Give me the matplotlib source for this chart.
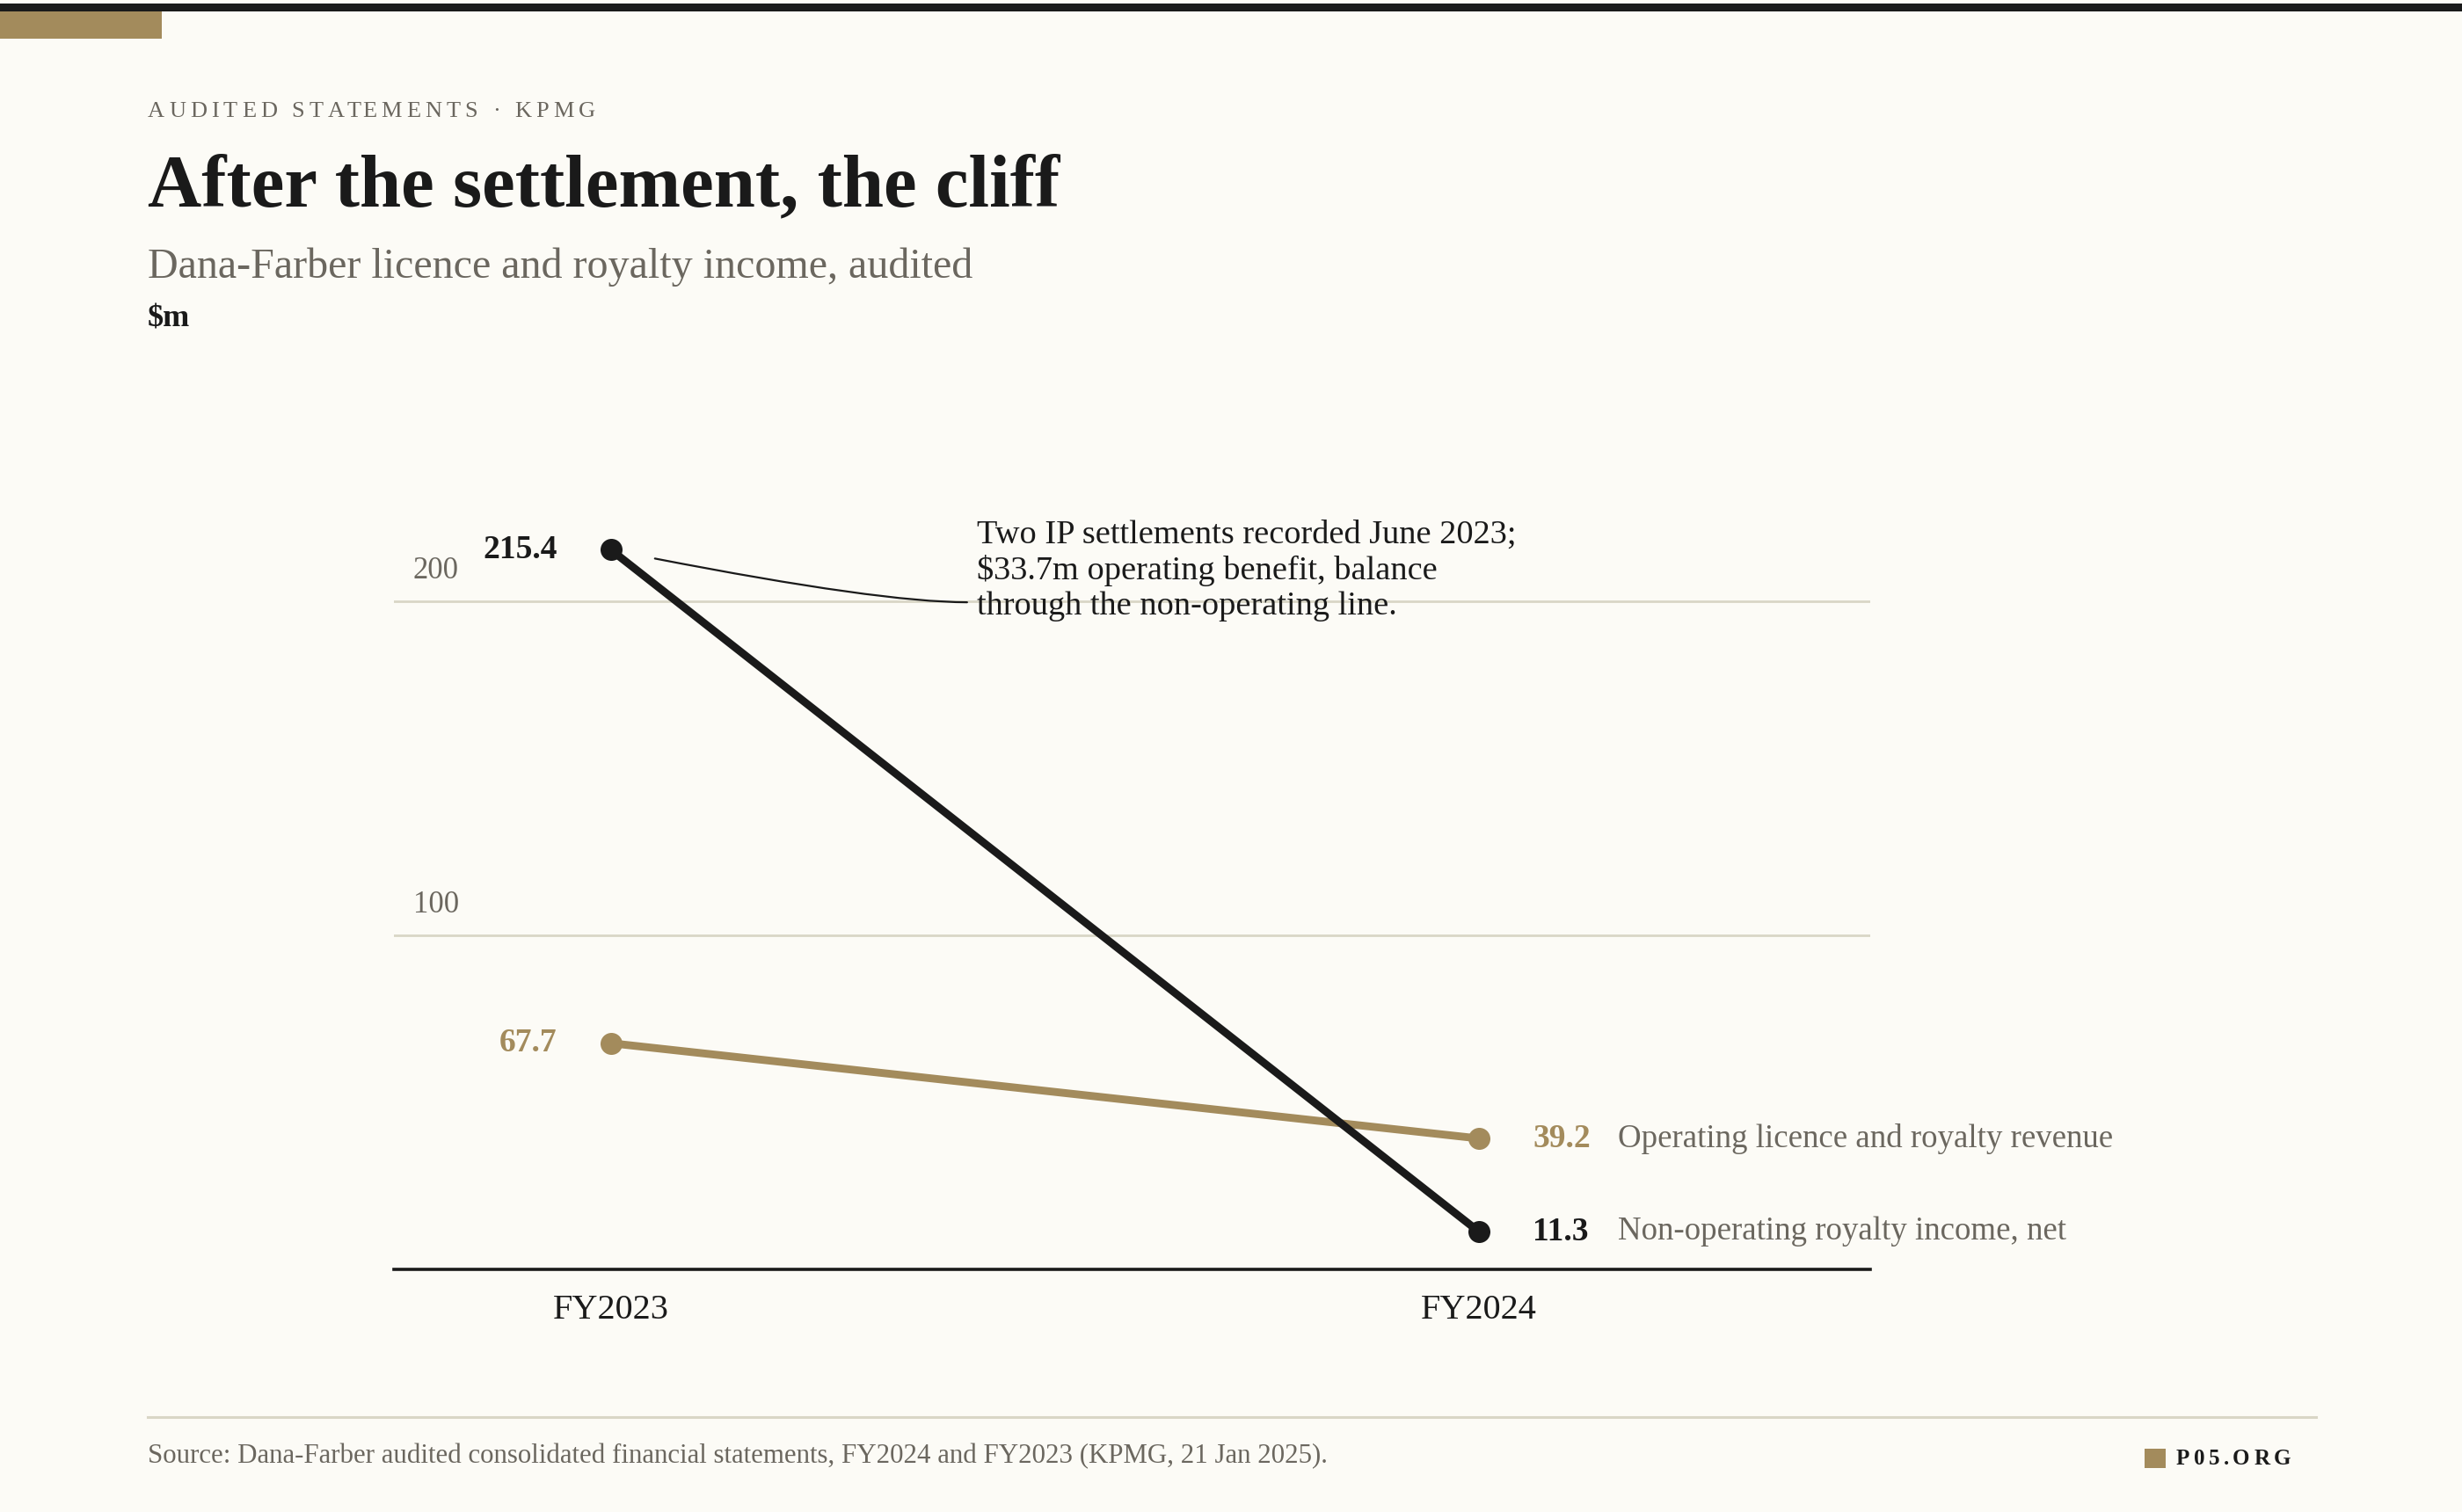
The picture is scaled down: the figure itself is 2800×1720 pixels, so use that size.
import matplotlib
matplotlib.use("Agg")
import matplotlib.pyplot as plt
from matplotlib.patches import Rectangle
from matplotlib.lines import Line2D
import matplotlib.transforms as mtransforms

# data
years = ["FY2023", "FY2024"]
operating = [67.7, 39.2]
non_operating = [215.4, 11.3]
series_names = ["Operating licence and royalty revenue", "Non-operating royalty income, net"]
y_ticks = [100, 200]

BG = "#fcfbf6"
INK = "#1a1a1a"
GOLD = "#a38b5c"
GREY = "#6b675f"
RULE = "#d9d6c6"
SERIF = ["Liberation Serif", "DejaVu Serif"]

plt.rcParams["font.family"] = SERIF

W, H = 2800, 1720
fig = plt.figure(figsize=(14, 8.6), dpi=200, facecolor=BG)


def fx(x):
    return x / W


def fy(y):
    return 1 - y / H


def tracked(x, y, s, track, **kw):
    # draw text char by char to fake letter spacing
    r = fig.canvas.get_renderer()
    probe = fig.text(0, 0, "|", **kw)
    bar_w = probe.get_window_extent(r).width
    probe.remove()
    for i, ch in enumerate(s):
        p = fig.text(0, 0, s[:i] + "|", **kw)
        off = p.get_window_extent(r).width - bar_w if i else 0
        p.remove()
        fig.text(fx(x + off + i * track), fy(y), ch, va="baseline", ha="left", **kw)


# top bars
fig.patches.append(Rectangle((0, fy(13)), 1, 9 / H, transform=fig.transFigure,
                             color=INK, lw=0))
fig.patches.append(Rectangle((0, fy(44)), fx(184), 31 / H, transform=fig.transFigure,
                             color=GOLD, lw=0))

# header
tracked(168, 133, "AUDITED STATEMENTS · KPMG", 5.0, fontsize=9.5, color=GREY)
fig.text(fx(168), fy(234), "After the settlement, the cliff", fontsize=30.5,
         fontweight="bold", color=INK, va="baseline")
fig.text(fx(168), fy(316), "Dana-Farber licence and royalty income, audited",
         fontsize=17.3, color=GREY, va="baseline")
fig.text(fx(168), fy(372), "$m", fontsize=13, fontweight="bold", color=INK,
         va="baseline")

# axes
ax = fig.add_axes([fx(448), 276 / H, (2127 - 448) / W, 912 / H])
ax.set_facecolor(BG)
ax.set_xlim(-0.25, 1.451)
ax.set_ylim(0, 240)
for s in ["top", "right", "left"]:
    ax.spines[s].set_visible(False)
ax.spines["bottom"].set_color(INK)
ax.spines["bottom"].set_linewidth(1.3)
ax.set_yticks(y_ticks)
ax.set_yticklabels([])
ax.tick_params(axis="y", length=0)
ax.grid(axis="y", color=RULE, lw=1.0)
ax.set_axisbelow(True)
x = list(range(len(years)))
ax.set_xticks(x)
ax.set_xticklabels(years, fontsize=14.5, color=INK)
ax.tick_params(axis="x", length=0, pad=10)

blend = mtransforms.blended_transform_factory(ax.transAxes, ax.transData)
for v in y_ticks:
    ax.annotate(str(v), xy=(0.013, v), xycoords=blend, xytext=(0, 9.5),
                textcoords="offset points", va="baseline", ha="left",
                fontsize=12.5, color=GREY)

ax.plot(x, operating, color=GOLD, lw=3.2, marker="o", ms=8, clip_on=False,
        solid_capstyle="round", zorder=3)
ax.plot(x, non_operating, color=INK, lw=3.2, marker="o", ms=8, clip_on=False,
        solid_capstyle="round", zorder=4)

for vals, col in [(operating, GOLD), (non_operating, INK)]:
    ax.annotate(f"{vals[0]:.1f}", xy=(x[0], vals[0]), xytext=(-22, 0),
                textcoords="offset points", ha="right", va="center",
                fontsize=13.5, fontweight="bold", color=col)
    ax.annotate(f"{vals[1]:.1f}", xy=(x[1], vals[1]), xytext=(22, 0),
                textcoords="offset points", ha="left", va="center",
                fontsize=13.5, fontweight="bold", color=col)
for vals, name in [(operating, series_names[0]), (non_operating, series_names[1])]:
    ax.annotate(name, xy=(x[1], vals[1]), xytext=(57, 0),
                textcoords="offset points", ha="left", va="center",
                fontsize=13.3, color=GREY)

# callout
ax.text(0.4215, 209.3, "Two IP settlements recorded June 2023;\n$33.7m operating benefit, balance\nthrough the non-operating line.",
        ha="left", va="center", fontsize=13.8, color=INK, linespacing=1.2)
ax.annotate("", xy=(0.0507, 212.8), xytext=(0.4104, 199.7),
            arrowprops=dict(arrowstyle="-", color=INK, lw=0.8,
                            connectionstyle="angle3,angleA=0,angleB=-11",
                            shrinkA=0, shrinkB=0))

# footer
fig.lines.append(Line2D([fx(168), fx(2634)], [fy(1612), fy(1612)],
                        transform=fig.transFigure, color=RULE, lw=1.1))
fig.text(fx(168), fy(1664),
         "Source: Dana-Farber audited consolidated financial statements, FY2024 and FY2023 (KPMG, 21 Jan 2025).",
         fontsize=11.1, color=GREY, va="baseline")
fig.patches.append(Rectangle((fx(2439), fy(1670)), 24 / W, 22 / H,
                             transform=fig.transFigure, color=GOLD, lw=0))
tracked(2475, 1666, "P05.ORG", 4.4, fontsize=9, fontweight="bold", color=INK)

fig.savefig("out.png", dpi=200, facecolor=BG)
